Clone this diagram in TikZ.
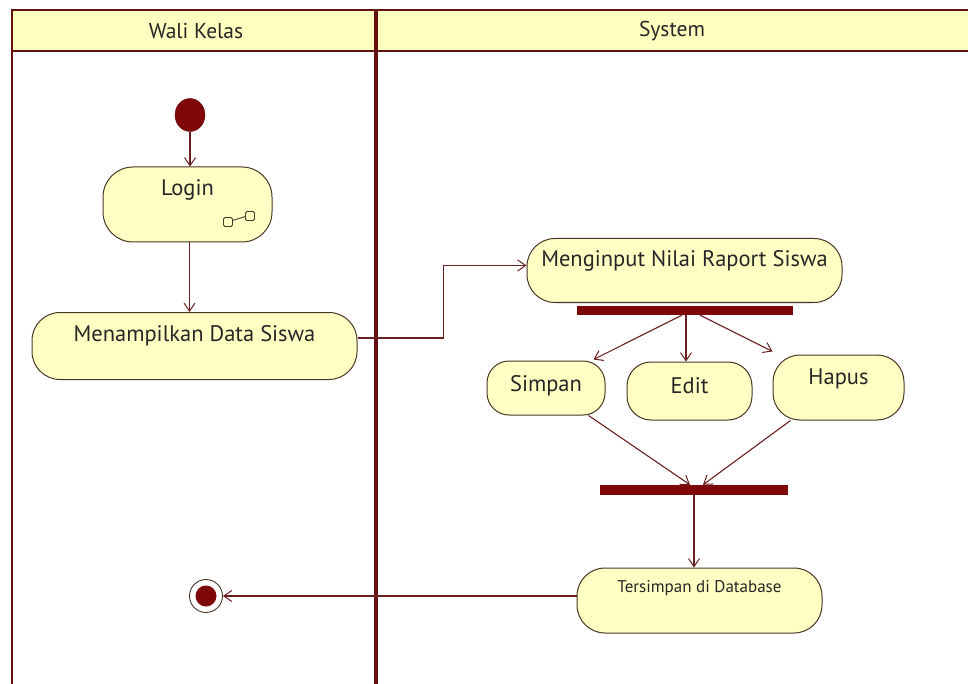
\documentclass[tikz,border=0pt]{standalone}
\usepackage{fontspec}
\setmainfont{PT Sans}
\usetikzlibrary{arrows.meta,calc,shapes.geometric}
\definecolor{lanec}{HTML}{641010}
\definecolor{hdrfill}{HTML}{FFFFC0}
\definecolor{actfill}{HTML}{FFFFC4}
\definecolor{actline}{HTML}{4A3626}
\definecolor{conn}{HTML}{6A2020}
\definecolor{barc}{HTML}{7E0808}
\begin{document}
\begin{tikzpicture}[x=1pt,y=-1pt,
  act/.style={draw=actline,line width=1pt,fill=actfill,rounded corners=28pt,inner sep=0pt,
    font=\fontsize{22.5}{22.5}\selectfont,text height=16pt,text=black!85},
  actsmall/.style={act,font=\fontsize{17}{17}\selectfont,text height=12pt},
  bar/.style={fill=barc,draw=none,inner sep=0pt},
  arr/.style={draw=conn,line width=1.1pt,-{Straight Barb[length=8pt,width=11pt,line width=1pt]}},
  hdr/.style={font=\fontsize{21.5}{21.5}\selectfont,text=black!85}
]
\useasboundingbox (0,0) rectangle (968,684);
% swimlanes
\fill[hdrfill] (12,10) rectangle (968,51);
\draw[lanec,line width=2pt] (12,684) -- (12,10) -- (968,10);
\draw[lanec,line width=2pt] (12,51) -- (968,51);
\draw[lanec,line width=4.5pt] (376,10) -- (376,684);
\node[hdr] (hwali) at (196,31) {Wali Kelas};
\node[hdr] (hsys) at (672,31) {System};

% nodes
\node[ellipse,fill=barc,draw=barc!80!black,minimum width=30pt,minimum height=33pt,inner sep=0pt] (start) at (190,115) {};
\node[act,rounded corners=30pt,minimum width=169pt,minimum height=75pt,text depth=34pt] (login) at (187.5,204.5) {Login};
\node[act,minimum width=325pt,minimum height=67pt,text depth=26pt] (disp) at (194.5,346) {Menampilkan Data Siswa};
\node[act,minimum width=315pt,minimum height=64pt,text depth=24pt] (input) at (684.5,270.5) {Menginput Nilai Raport Siswa};
\node[bar,minimum width=216pt,minimum height=9pt] (fork) at (685,310.5) {};
\node[act,rounded corners=22pt,minimum width=118pt,minimum height=54pt,text depth=10pt] (simpan) at (546,388) {Simpan};
\node[act,rounded corners=24pt,minimum width=125pt,minimum height=58pt,text depth=12pt] (edit) at (689.5,391) {Edit};
\node[act,rounded corners=27pt,minimum width=131pt,minimum height=65pt,text depth=22pt] (hapus) at (838.5,387.5) {Hapus};
\node[bar,minimum width=188pt,minimum height=10pt] (join) at (694,490) {};
\node[actsmall,minimum width=245pt,minimum height=65pt,text depth=28pt] (db) at (699.5,600.5) {Tersimpan di Database};
\node[circle,draw=actline,fill=white,line width=0.9pt,minimum size=33pt,inner sep=0pt] (end) at (206,596) {};
\fill[barc] (end.center) circle (10.5pt);

% sub-activity icon in Login
\draw[actline,line width=0.9pt,rounded corners=1.5pt] ($(login.center)+(36,13)$) rectangle ++(9,9);
\draw[actline,line width=0.9pt,rounded corners=1.5pt] ($(login.center)+(58,7)$) rectangle ++(9,9);
\draw[actline,line width=0.9pt] ($(login.center)+(45,16)$) -- ($(login.center)+(58,12)$);

% connectors
\draw[arr] (start.south) -- (start.south |- login.north);
\draw[arr] ([xshift=2pt]login.south) -- ([xshift=2pt]login.south |- disp.north);
\draw[arr] ([yshift=8pt]disp.east) -- ++(86,0) |- ([yshift=5pt]input.west);
\draw[arr] ([xshift=-3pt]fork.south) -- ([xshift=-12pt,yshift=1pt]simpan.north east);
\draw[arr] ([xshift=1pt]fork.south) -- ([xshift=1pt]fork.south |- edit.north);
\draw[arr] ([xshift=15pt]fork.south) -- ([yshift=3pt]hapus.north west);
\draw[arr] ([xshift=-17pt]simpan.south east) -- ([xshift=-4pt]join.north);
\draw[arr] ([xshift=-48pt]hapus.south) -- ([xshift=9pt]join.north);
\draw[arr] (join.south) -- (join.south |- db.north);
\draw[arr] (db.west |- end) -- (end.east);
\end{tikzpicture}
\end{document}
